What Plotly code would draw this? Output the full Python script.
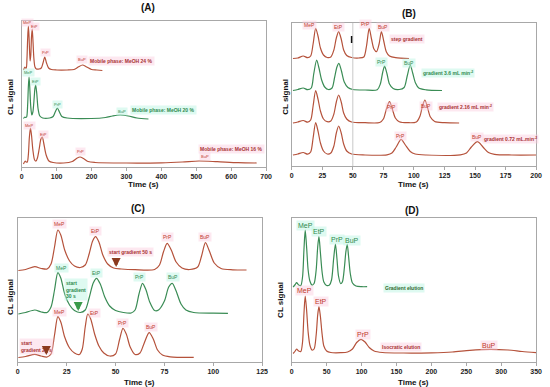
import plotly.graph_objects as go

W, H = 550, 387
RED = "#b5523b"
GREEN = "#3a8c55"
RED_TXT = "#c0392b"
GREEN_TXT = "#2f8a4f"
PINK_BG = "rgba(250,205,222,0.45)"
CYAN_BG = "rgba(190,245,228,0.5)"
FONT = "Liberation Sans, Arial, sans-serif"

# ---------------- Panel A (time in s, signal arbitrary units) ----------------
A1_t = [5, 9, 11, 13, 15, 17, 19, 21, 24, 26, 28, 30, 32, 35, 38, 42, 50, 56, 61, 66, 71, 77, 85, 100, 130, 150, 162, 174, 186, 200, 215, 231]
A1_y = [97, 100, 99, 99, 108, 128, 141, 130, 106, 112, 130, 138, 128, 108, 100, 98, 98, 99, 104, 110, 104, 99, 97.5, 97, 97, 97.5, 100, 102, 100, 97.5, 97, 96.5]
A2_t = [5, 9, 11, 14, 17, 19, 21, 23, 26, 29, 32, 35, 38, 40, 43, 47, 52, 60, 80, 90, 96, 102, 108, 115, 130, 200, 240, 260, 282, 305, 330, 363]
A2_y = [48.5, 50, 49.5, 50, 62, 80, 90, 80, 60, 52, 55, 66, 79, 82, 74, 58, 51, 49, 49, 50.5, 55, 59, 55, 50.5, 49, 48.5, 49.5, 51, 52, 51, 49, 48]
A3_t = [5, 10, 13, 16, 19, 22, 25, 28, 32, 37, 41, 45, 50, 55, 59, 63, 70, 78, 90, 120, 145, 157, 167, 177, 190, 210, 300, 400, 460, 508, 560, 620, 673]
A3_y = [3, 6, 5, 5, 12, 30, 39, 32, 17, 7, 6, 9, 18, 28, 30, 24, 12, 6, 4.5, 4, 5.5, 8.5, 10, 8.5, 5.5, 4.5, 4, 4.2, 5, 6, 5.3, 4.3, 4]

# ---------------- Panel B ----------------
B1_t = [1, 5, 9.4, 13, 15.5, 17.5, 19.6, 21.5, 23.5, 26, 29, 32, 34.5, 36.5, 38.4, 40.5, 42.5, 45, 49, 55, 59, 61.2, 63.4, 65.3, 67.3, 69.4, 71.5, 73.4, 75.3, 77.5, 80, 85, 96]
B1_y = [107.5, 108, 110, 108.3, 110, 122, 137.7, 130, 118, 111, 108.5, 109, 116, 128, 134.3, 127, 116, 110.5, 108.5, 108, 109, 120, 137.7, 127, 117, 114.3, 122, 134.3, 125, 114, 110, 108.3, 107.5]
B2_t = [1, 5, 9.4, 13, 16, 18, 20.4, 22.3, 24.5, 27, 30, 33, 35, 37, 38.6, 40.7, 43, 46, 50, 60, 70, 72.5, 74.5, 76, 78, 80, 83, 88, 92, 94.5, 97, 99, 101.3, 104, 110, 123]
B2_y = [75.5, 76.5, 78, 76.3, 78, 92, 106, 98, 86, 79, 76.5, 78, 88, 99, 102.7, 95, 84, 78.5, 76.5, 76, 76.3, 82, 94, 100, 92, 82, 77.5, 76.5, 78.5, 90, 101, 93, 83, 78, 76.2, 75.5]
B3_t = [1, 5, 9.4, 13, 15.5, 17.5, 19.6, 21.5, 23.5, 26, 29, 32, 34.5, 36.5, 38.4, 40.5, 42.5, 45, 49, 60, 72, 75, 77.5, 80, 82.3, 84.8, 88, 95, 102, 105, 107, 109, 111.2, 113.5, 117, 125, 137]
B3_y = [43, 44, 45.5, 43.8, 46, 60, 75.3, 67, 55, 47, 44.3, 45, 52, 64, 71, 64, 53, 47, 44, 43.3, 43.5, 47, 57, 64.3, 57, 48, 44.3, 43.3, 44, 50, 60, 66, 58, 49, 44.5, 43.3, 43]
B4_t = [1, 5, 9.4, 13, 15.5, 17.5, 19.6, 21.5, 23.5, 26, 29, 32, 34.5, 36.5, 38.4, 40.5, 42.5, 45, 49, 60, 78, 82, 85.5, 89.5, 93, 97, 101, 110, 138, 143, 147, 152, 156.5, 161, 166, 180, 200]
B4_y = [11, 12, 13.5, 11.8, 14, 28, 43.3, 35, 23, 15, 12, 13, 20, 33, 40, 33, 22, 15, 12, 11, 11.2, 13, 19, 26.7, 21, 14.5, 12, 11, 11.2, 13, 19, 24.3, 19, 13.5, 11.7, 11, 11]

# ---------------- Panel C ----------------
C1_t = [0.3, 4, 8.7, 12, 15, 17, 18.8, 20.5, 22, 24, 26.5, 29, 32, 34.5, 36.5, 38.3, 39.8, 41.5, 43.5, 46, 49, 53, 60, 70, 72.5, 74.5, 76.4, 78.5, 81, 84, 88, 92, 94, 96, 98, 100.5, 104, 110, 117]
C1_y = [91.5, 92.5, 95.3, 93.5, 93, 98, 115, 132, 127, 112, 101, 96, 94.5, 97, 108, 121, 125.3, 120, 107, 98, 94, 93, 92.3, 92.5, 97, 110, 118.7, 112, 100, 94, 92.5, 95, 106, 119.3, 111, 99, 93.5, 92.2, 92]
C2_t = [0.3, 4, 8.7, 12, 15, 17, 18.8, 20.5, 22, 24, 26.5, 29, 32, 34.5, 36.5, 38.6, 40.3, 42.2, 44.5, 47, 50, 54, 58, 60, 62, 63.8, 65.6, 67.5, 70, 72, 75, 77.2, 79, 81, 83.5, 86, 90, 100, 107.5]
C2_y = [48, 49.5, 52, 50, 49.5, 55, 72, 89.3, 84, 68, 57, 51.5, 49.5, 52, 64, 79, 83.7, 78, 65, 56, 51.5, 49.5, 49, 52, 68, 78.7, 72, 60, 51.5, 52, 61, 75, 78.7, 71, 58, 52, 49.5, 48.8, 48.7]
C3_t = [0.3, 4, 8.7, 12, 15, 17, 18.8, 20.5, 22, 24, 26.5, 29, 31.5, 33, 34.5, 35.8, 37.3, 39.3, 41.5, 44, 47, 50, 52, 53.8, 55.5, 57.5, 60, 62.5, 64.5, 67.2, 69.3, 71.5, 74, 78, 90]
C3_y = [4.5, 5.5, 7.7, 6, 5, 8, 27, 45.3, 40, 25, 14, 9, 7.5, 13, 35, 48, 43, 28, 16, 9, 6, 8, 22, 33.7, 28, 15, 7.5, 9, 18, 29.3, 23, 12, 7, 5.2, 4.7]

# ---------------- Panel D ----------------
D1_t = [2, 5, 7, 10, 13, 15.5, 17.5, 19.3, 21.3, 23.5, 26, 29, 32, 35, 37.2, 39, 41, 43.5, 46, 50, 54, 57, 60, 62.6, 64.8, 67, 70, 72.5, 75.5, 77.5, 79.5, 81.5, 84, 87, 92, 100, 108]
D1_y = [75, 77.5, 79.3, 77, 76.5, 85, 112, 132, 115, 92, 81, 77, 78.5, 92, 115, 125.3, 110, 90, 80, 76.5, 77, 82, 103, 118, 103, 86, 78.5, 80, 95, 110, 117.7, 105, 88, 79, 76, 75.3, 75.3]
D2_t = [2, 5, 7, 10, 13, 15.5, 17.5, 19.3, 21.3, 23.5, 26, 29, 32, 35, 37.2, 39, 41, 43.5, 46, 50, 56, 70, 80, 87, 93, 99.3, 105, 111, 118, 130, 160, 200, 230, 255, 283.7, 310, 330, 350]
D2_y = [8.5, 11, 13, 11, 10.5, 20, 48, 66, 52, 30, 17, 12, 13, 27, 47, 55.3, 46, 28, 16, 11, 9.5, 9.3, 10, 13, 19.5, 22.7, 20, 14.5, 11, 9.5, 9, 9.2, 10, 11.7, 12.7, 12, 10.5, 9.3]

# tick settings / ranges
A_range, A_dtick = [0, 700], 100
B_range, B_dtick = [0, 200], 25
C_range, C_dtick = [0, 125], 25
D_range, D_dtick = [0, 350], 50

# label texts
PEAKS = ["MeP", "EtP", "PrP", "BuP"]
A_notes = ["Mobile phase: MeOH 24 %", "Mobile phase: MeOH 20 %", "Mobile phase: MeOH 16 %"]
B_notes = ["step gradient", "gradient 3.6 mL min<sup>-2</sup>", "gradient 2.16 mL min<sup>-2</sup>", "gradient 0.72 mL.min<sup>-2</sup>"]
C_notes = ["start gradient 50 s", "start<br>gradient<br>30 s", "start<br>gradient 20 s"]
D_notes = ["Gradient elution", "Isocratic elution"]


def px_dom_x(a, b):
    return [a / W, b / W]


def px_dom_y(top, bottom):
    return [1 - bottom / H, 1 - top / H]


fig = go.Figure()

traces = [
    (A1_t, A1_y, RED, "x", "y"), (A2_t, A2_y, GREEN, "x", "y"), (A3_t, A3_y, RED, "x", "y"),
    (B1_t, B1_y, RED, "x2", "y2"), (B2_t, B2_y, GREEN, "x2", "y2"), (B3_t, B3_y, RED, "x2", "y2"), (B4_t, B4_y, RED, "x2", "y2"),
    (C1_t, C1_y, RED, "x3", "y3"), (C2_t, C2_y, GREEN, "x3", "y3"), (C3_t, C3_y, RED, "x3", "y3"),
    (D1_t, D1_y, GREEN, "x4", "y4"), (D2_t, D2_y, RED, "x4", "y4"),
]
for t, y, c, xa, ya in traces:
    fig.add_trace(go.Scatter(x=t, y=y, mode="lines", line=dict(color=c, width=1.2, shape="spline", smoothing=0.8),
                             xaxis=xa, yaxis=ya, showlegend=False, hoverinfo="skip"))

panels = [
    ("", "", A_range, A_dtick, 146, (20, 268), (21, 167)),
    ("2", "2", B_range, B_dtick, 143, (294, 542), (23, 166)),
    ("3", "3", C_range, C_dtick, 144, (16, 264), (218, 362)),
    ("4", "4", D_range, D_dtick, 144, (294, 542), (218, 362)),
]
layout = dict(width=W, height=H, margin=dict(l=0, r=0, t=0, b=0), paper_bgcolor="white", plot_bgcolor="white",
              font=dict(family=FONT, color="#222"), hovermode=False)
for xs, ys, xr, dt, yr, (xl, xrpx), (yt, yb) in panels:
    layout["xaxis" + xs] = dict(domain=px_dom_x(xl, xrpx), range=xr, dtick=dt, tick0=0, anchor="y" + ys,
                                showline=True, linecolor="#a8a8a8", linewidth=1, mirror=True,
                                ticks="outside", ticklen=3, tickcolor="#a8a8a8", showgrid=False, zeroline=False,
                                tickfont=dict(size=7, color="#222", weight="bold"))
    layout["yaxis" + ys] = dict(domain=px_dom_y(yt, yb), range=[0, yr], anchor="x" + xs,
                                showline=True, linecolor="#a8a8a8", linewidth=1, mirror=True,
                                showticklabels=False, ticks="", showgrid=False, zeroline=False)
fig.update_layout(**layout)

ann = []


def paper_text(text, x, y, size, angle=0):
    ann.append(dict(text=text, x=x / W, y=1 - y / H, xref="paper", yref="paper", showarrow=False,
                    font=dict(size=size, family=FONT, color="#111", weight="bold"), textangle=angle,
                    xanchor="center", yanchor="middle"))


for t, x, y in [("(A)", 148, 8), ("(B)", 413, 13), ("(C)", 138, 208), ("(D)", 416, 210)]:
    paper_text(t, x, y, 10)
for x, y in [(144, 184), (418, 184), (140, 382), (418, 382)]:
    paper_text("Time (s)", x, y, 8)
for x, y in [(8, 97), (287, 97), (8, 297), (282, 300)]:
    paper_text("CL signal", x, y, 8, -90)


def lab(text, x, y, xa, ya, color, bg, size=5, bold=False, align="center", xanchor="center"):
    ann.append(dict(text=text, x=x, y=y, xref=xa, yref=ya, showarrow=False, align=align,
                    font=dict(size=size, family=FONT, color=color, weight="bold" if bold else "normal"),
                    bgcolor=bg, borderpad=1, xanchor=xanchor, yanchor="middle"))


# Panel A labels
for (t, v), p in zip([(17, 144), (37.7, 140.3), (67.8, 114.3), (174, 107)], PEAKS):
    lab(p, t, v, "x", "y", RED_TXT, PINK_BG, 4)
for (t, v), p in zip([(18.8, 94.3), (40.5, 86), (103.6, 62.7), (287, 56)], PEAKS):
    lab(p, t, v, "x", "y", GREEN_TXT, CYAN_BG, 4)
for (t, v), p in zip([(23.5, 42), (61.2, 32.7), (169.5, 15.3), (525, 10.3)], PEAKS):
    lab(p, t, v, "x", "y", RED_TXT, PINK_BG, 4)
lab(A_notes[0], 286.7, 106, "x", "y", "#a83232", PINK_BG, 5, True)
lab(A_notes[1], 405, 57, "x", "y", GREEN_TXT, CYAN_BG, 5, True)
lab(A_notes[2], 601.7, 18, "x", "y", "#a83232", PINK_BG, 5, True)

# Panel B labels
for (t, v), p in zip([(14.8, 141), (38.5, 139.3), (60.5, 141.7), (74.8, 139.3)], PEAKS):
    lab(p, t, v, "x2", "y2", RED_TXT, PINK_BG, 5)
lab(B_notes[0], 94.4, 126.7, "x2", "y2", "#a83232", PINK_BG, 5, True)
lab("PrP", 73.4, 104.3, "x2", "y2", GREEN_TXT, CYAN_BG, 5)
lab("BuP", 96.2, 103.3, "x2", "y2", GREEN_TXT, CYAN_BG, 5)
lab(B_notes[1], 128.2, 93.3, "x2", "y2", GREEN_TXT, CYAN_BG, 5, True)
lab("PrP", 81.5, 58.7, "x2", "y2", RED_TXT, PINK_BG, 5)
lab("BuP", 109.7, 60, "x2", "y2", RED_TXT, PINK_BG, 5)
lab(B_notes[2], 142.2, 59.3, "x2", "y2", "#a83232", PINK_BG, 5, True)
lab("PrP", 89, 30, "x2", "y2", RED_TXT, PINK_BG, 5)
lab("BuP", 151.4, 29.3, "x2", "y2", RED_TXT, PINK_BG, 5)
lab(B_notes[3], 179.4, 26.7, "x2", "y2", "#a83232", PINK_BG, 5, True)

# Panel C labels
for (t, v), p in zip([(21.3, 137.7), (39.8, 131.3), (76.8, 124.7), (95.8, 124.7)], PEAKS):
    lab(p, t, v, "x3", "y3", RED_TXT, PINK_BG, 5)
for (t, v), p in zip([(22.2, 94.3), (40.2, 89.3), (62.1, 84.7), (79.3, 84.7)], PEAKS):
    lab(p, t, v, "x3", "y3", GREEN_TXT, CYAN_BG, 5)
for (t, v), p in zip([(21.3, 50.3), (39.5, 49.3), (53.8, 38.7), (68.4, 34.7)], PEAKS):
    lab(p, t, v, "x3", "y3", RED_TXT, PINK_BG, 5)
lab(C_notes[0], 57.5, 109.7, "x3", "y3", "#a83232", PINK_BG, 5, True)
lab(C_notes[1], 29.7, 73, "x3", "y3", GREEN_TXT, CYAN_BG, 5, True, align="left")
lab(C_notes[2], 0.5, 16, "x3", "y3", "#a83232", PINK_BG, 5, True, align="left", xanchor="left")

# Panel C arrows
for t, v0, v1, col in [(50.3, 104, 95, "#8b3a1e"), (30.9, 59, 51, "#3a9a4a"), (14.6, 15, 7, "#8b3a1e")]:
    ann.append(dict(x=t, y=v1, ax=t, ay=v0, xref="x3", yref="y3", axref="x3", ayref="y3", text="",
                    showarrow=True, arrowhead=2, arrowsize=0.6, arrowwidth=3, arrowcolor=col))

# Panel D labels
for (t, v), p in zip([(20.2, 137), (39.1, 130.3), (64.9, 123), (86.1, 121.3)], PEAKS):
    lab(p, t, v, "x4", "y4", GREEN_TXT, CYAN_BG, 7)
for (t, v), p in zip([(18.8, 71.3), (41.3, 60.3), (101.6, 28), (282.7, 17)], PEAKS):
    lab(p, t, v, "x4", "y4", RED_TXT, PINK_BG, 7)
lab(D_notes[0], 160.9, 73.7, "x4", "y4", "#2f6b2f", CYAN_BG, 5, True)
lab(D_notes[1], 156.2, 15.3, "x4", "y4", "#a83232", PINK_BG, 5, True)

fig.update_layout(annotations=ann)

# Panel B: marker lines at the gradient step
fig.add_shape(type="line", xref="x2", yref="y2 domain", x0=50, x1=50, y0=0, y1=1,
              line=dict(color="#c8c8c8", width=1))
fig.add_shape(type="line", xref="x2", yref="y2", x0=49, x1=49, y0=123, y1=130,
              line=dict(color="#111", width=1.5))

fig.write_html("out.html", config={"displayModeBar": False, "staticPlot": True},
               post_script="document.body.style.margin='0';document.body.style.overflow='hidden';")
